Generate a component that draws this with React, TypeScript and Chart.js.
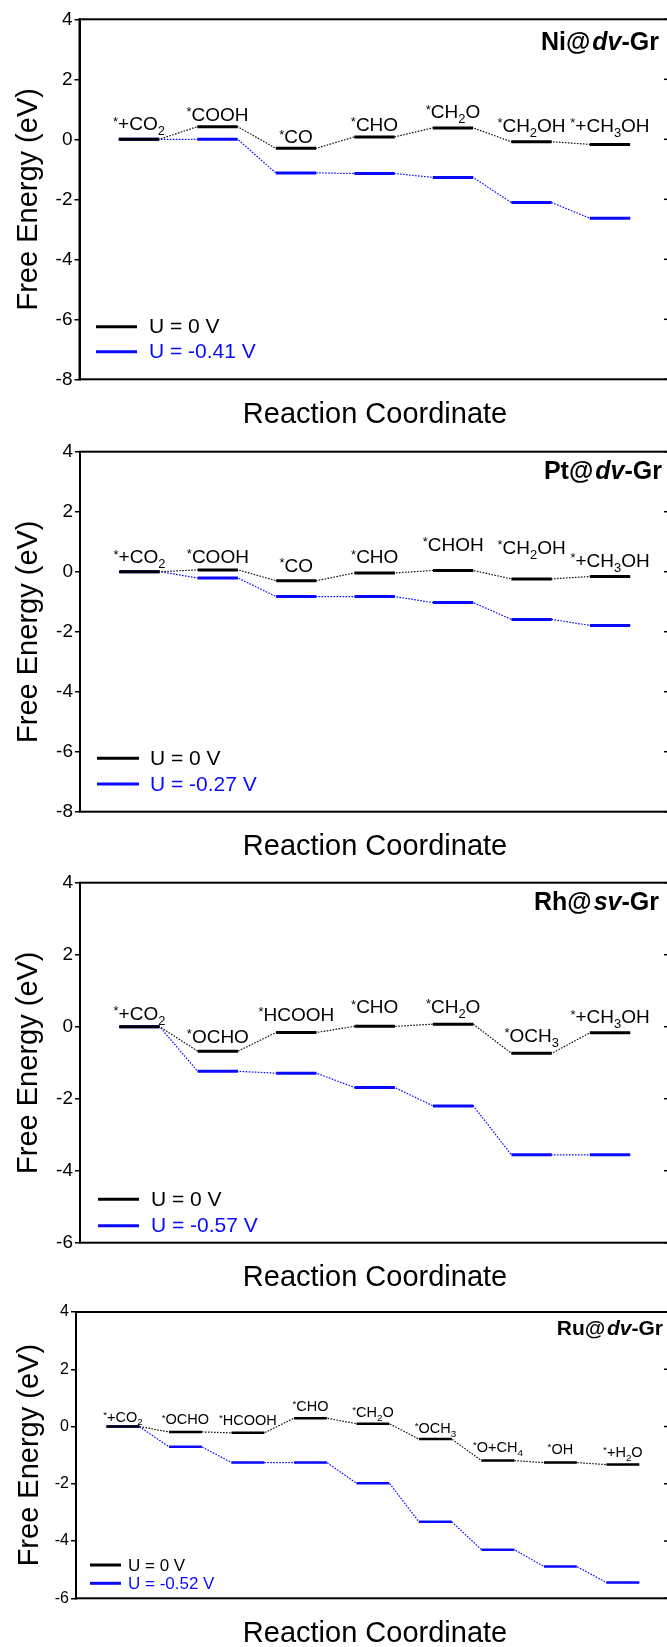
import React, { useEffect, useRef } from 'react';
import { Chart, registerables } from 'chart.js';

Chart.register(...registerables);

const FONT = '"Liberation Sans", Arial, Helvetica, sans-serif';
const BLUE = '#0a0aff';

// ---------- data ----------
// Ni@dv-Gr
const niStates = ['*+CO_2', '*COOH', '*CO', '*CHO', '*CH_2O', '*CH_2OH', '*+CH_3OH'];
const niU0 = [0, 0.42, -0.3, 0.08, 0.38, -0.08, -0.17];
const niUm = [0, 0.0, -1.12, -1.14, -1.27, -2.11, -2.63];

// Pt@dv-Gr
const ptStates = ['*+CO_2', '*COOH', '*CO', '*CHO', '*CHOH', '*CH_2OH', '*+CH_3OH'];
const ptU0 = [0, 0.06, -0.3, -0.04, 0.04, -0.24, -0.16];
const ptUm = [0, -0.21, -0.83, -0.83, -1.03, -1.59, -1.79];

// Rh@sv-Gr
const rhStates = ['*+CO_2', '*OCHO', '*HCOOH', '*CHO', '*CH_2O', '*OCH_3', '*+CH_3OH'];
const rhU0 = [0, -0.68, -0.16, 0.01, 0.07, -0.74, -0.17];
const rhUm = [0, -1.24, -1.29, -1.69, -2.2, -3.56, -3.56];

// Ru@dv-Gr
const ruStates = ['*+CO_2', '*OCHO', '*HCOOH', '*CHO', '*CH_2O', '*OCH_3', '*O+CH_4', '*OH', '*+H_2O'];
const ruU0 = [0, -0.19, -0.22, 0.29, 0.1, -0.44, -1.19, -1.26, -1.33];
const ruUm = [0, -0.71, -1.26, -1.26, -1.98, -3.33, -4.3, -4.89, -5.45];

const yTicksA = [4, 2, 0, -2, -4, -6, -8];
const yTicksB = [4, 2, 0, -2, -4, -6];

const legendU0 = 'U = 0 V';
const niLegend = 'U = -0.41 V';
const ptLegend = 'U = -0.27 V';
const rhLegend = 'U = -0.57 V';
const ruLegend = 'U = -0.52 V';

const yTitle = 'Free Energy (eV)';
const xTitle = 'Reaction Coordinate';

// ---------- layout / style per panel ----------
const CANVAS_W = 672;
const PANELS = [
  {
    key: 'ni', title: ['Ni@', 'dv', '-Gr'], states: niStates, u0: niU0, um: niUm, uLabel: niLegend, ticks: yTicksA,
    top: 0, height: 430, plotTop: 19.3, plotBottom: 379.3, left: 79.5, right: 669,
    xMin: -0.758, xMax: 6.752, halfW: 0.257,
    tickFont: 19, labelFont: 19, legendFont: 21, titleFont: 25, levelW: 3,
    legendY: [52.6, 27.6], legendX: [96, 137, 149], titleRight: 659, titleBase: 31, yTitleX: 37,
    raise: [9, 6, 5, 6, 9.6, 10, 12.7],
  },
  {
    key: 'pt', title: ['Pt@', 'dv', '-Gr'], states: ptStates, u0: ptU0, um: ptUm, uLabel: ptLegend, ticks: yTicksA,
    top: 430, height: 432, plotTop: 21.7, plotBottom: 381.7, left: 80, right: 669,
    xMin: -0.758, xMax: 6.752, halfW: 0.257,
    tickFont: 19, labelFont: 19, legendFont: 21, titleFont: 25, levelW: 3,
    legendY: [53.4, 27.7], legendX: [97, 139, 150], titleRight: 662, titleBase: 27.6, yTitleX: 37,
    raise: [8.4, 6.7, 9, 9.6, 20, 25, 10],
  },
  {
    key: 'rh', title: ['Rh@', 'sv', '-Gr'], states: rhStates, u0: rhU0, um: rhUm, uLabel: rhLegend, ticks: yTicksB,
    top: 862, height: 433, plotTop: 20.7, plotBottom: 380.7, left: 80, right: 669,
    xMin: -0.758, xMax: 6.752, halfW: 0.257,
    tickFont: 19, labelFont: 19, legendFont: 21, titleFont: 25, levelW: 3,
    legendY: [43.4, 17], legendX: [98, 139, 151], titleRight: 659, titleBase: 27.3, yTitleX: 37,
    raise: [6.7, 8, 11.5, 13, 11, 11.6, 9.5],
  },
  {
    key: 'ru', title: ['Ru@', 'dv', '-Gr'], states: ruStates, u0: ruU0, um: ruUm, uLabel: ruLegend, ticks: yTicksB,
    top: 1295, height: 352, plotTop: 17, plotBottom: 303.3, left: 76, right: 669,
    xMin: -0.751, xMax: 8.738, halfW: 0.263,
    tickFont: 16, labelFont: 14.5, legendFont: 17, titleFont: 21, levelW: 2.5,
    legendY: [33.3, 15], legendX: [90, 121, 128], titleRight: 663, titleBase: 23, yTitleX: 38,
    raise: [5, 7.5, 7.7, 7.4, 6.7, 6.3, 8.7, 9, 8],
  },
];

type Panel = (typeof PANELS)[number];

function levelData(vals: number[], hw: number) {
  const out: { x: number; y: number | null }[] = [];
  vals.forEach((v, i) => {
    out.push({ x: i - hw, y: v }, { x: i + hw, y: v });
    if (i < vals.length - 1) out.push({ x: i + 0.5, y: null });
  });
  return out;
}

function pathData(vals: number[], hw: number) {
  const out: { x: number; y: number }[] = [];
  vals.forEach((v, i) => {
    out.push({ x: i - hw, y: v }, { x: i + hw, y: v });
  });
  return out;
}

function drawRich(ctx: CanvasRenderingContext2D, text: string, cx: number, baseY: number, size: number) {
  const parts: { t: string; kind: string; w?: number }[] = [];
  let i = 0;
  while (i < text.length) {
    const ch = text[i];
    if (i === 0 && ch === '*') { parts.push({ t: '*', kind: 'sup' }); i++; continue; }
    if (ch === '_') { parts.push({ t: text[i + 1], kind: 'sub' }); i += 2; continue; }
    parts.push({ t: ch, kind: 'n' });
    i++;
  }
  let total = 0;
  for (const p of parts) {
    ctx.font = `${p.kind === 'n' ? size : size * 0.68}px ${FONT}`;
    p.w = ctx.measureText(p.t).width;
    total += p.w;
  }
  let x = cx - total / 2;
  ctx.textAlign = 'left';
  ctx.textBaseline = 'alphabetic';
  for (const p of parts) {
    ctx.font = `${p.kind === 'n' ? size : size * 0.68}px ${FONT}`;
    const dy = p.kind === 'sup' ? -size * 0.25 : p.kind === 'sub' ? size * 0.27 : 0;
    ctx.fillText(p.t, x, baseY + dy);
    x += p.w as number;
  }
}

function makeDecor(p: Panel) {
  return {
    id: 'decor_' + p.key,
    afterDraw(chart: any) {
      const ctx: CanvasRenderingContext2D = chart.ctx;
      const { left, right, top, bottom } = chart.chartArea;
      const xs = chart.scales.x;
      const ys = chart.scales.y;
      ctx.save();
      // frame
      ctx.strokeStyle = '#000';
      ctx.lineWidth = 2;
      ctx.strokeRect(left, top, right - left, bottom - top);
      // inward ticks on right
      ctx.lineWidth = 1.5;
      for (const v of p.ticks) {
        const y = ys.getPixelForValue(v);
        ctx.beginPath();
        ctx.moveTo(right - 5, y);
        ctx.lineTo(right, y);
        ctx.stroke();
      }
      // level labels
      ctx.fillStyle = '#000';
      p.states.forEach((s, i) => {
        const cx = xs.getPixelForValue(i);
        const cy = ys.getPixelForValue(p.u0[i]);
        drawRich(ctx, s, cx, cy - p.raise[i], p.labelFont);
      });
      // title
      const fs = p.titleFont;
      const fonts = [`bold ${fs}px ${FONT}`, `italic bold ${fs}px ${FONT}`, `bold ${fs}px ${FONT}`];
      const widths = p.title.map((t, k) => { ctx.font = fonts[k]; return ctx.measureText(t).width; });
      const gap = fs * 0.08;
      let tx = p.titleRight - widths.reduce((a, b) => a + b, 0) - gap;
      ctx.textAlign = 'left';
      ctx.textBaseline = 'alphabetic';
      p.title.forEach((t, k) => {
        ctx.font = fonts[k];
        ctx.fillText(t, tx, top + p.titleBase);
        tx += widths[k] + (k === 0 ? gap : 0);
      });
      // legend
      const [lx0, lx1, tx0] = p.legendX;
      const entries = [
        { c: '#000', t: legendU0, y: bottom - p.legendY[0] },
        { c: BLUE, t: p.uLabel, y: bottom - p.legendY[1] },
      ];
      ctx.font = `${p.legendFont}px ${FONT}`;
      ctx.textBaseline = 'middle';
      for (const e of entries) {
        ctx.strokeStyle = e.c;
        ctx.lineWidth = 3;
        ctx.beginPath();
        ctx.moveTo(lx0, e.y);
        ctx.lineTo(lx1, e.y);
        ctx.stroke();
        ctx.fillStyle = e.c;
        ctx.fillText(e.t, tx0, e.y + 1);
      }
      // axis titles
      ctx.fillStyle = '#000';
      ctx.font = `29px ${FONT}`;
      ctx.textAlign = 'center';
      ctx.textBaseline = 'alphabetic';
      ctx.fillText(xTitle, 375, bottom + 43.5);
      ctx.save();
      ctx.translate(p.yTitleX, (top + bottom) / 2);
      ctx.rotate(-Math.PI / 2);
      ctx.fillText(yTitle, 0, 0);
      ctx.restore();
      ctx.restore();
    },
  };
}

function PanelChart({ p }: { p: Panel }) {
  const ref = useRef<HTMLCanvasElement | null>(null);
  useEffect(() => {
    if (!ref.current) return;
    const conn = { borderWidth: 1.2, borderDash: [1.6, 1.4], pointRadius: 0, tension: 0, spanGaps: true };
    const lev = { borderWidth: p.levelW, pointRadius: 0, tension: 0, spanGaps: false, borderCapStyle: 'butt' as const };
    const chart = new Chart(ref.current, {
      type: 'line',
      data: {
        datasets: [
          { ...conn, label: 'blue path', data: pathData(p.um, p.halfW), borderColor: BLUE, order: 4 },
          { ...conn, label: 'black path', data: pathData(p.u0, p.halfW), borderColor: '#111', order: 3 },
          { ...lev, label: p.uLabel, data: levelData(p.um, p.halfW), borderColor: BLUE, order: 2 },
          { ...lev, label: legendU0, data: levelData(p.u0, p.halfW), borderColor: '#000', order: 1 },
        ],
      },
      options: {
        responsive: false,
        animation: false,
        devicePixelRatio: 1,
        layout: { padding: { left: 0, right: CANVAS_W - p.right, top: p.plotTop, bottom: p.height - p.plotBottom } },
        plugins: { legend: { display: false }, tooltip: { enabled: false } },
        scales: {
          x: { type: 'linear', min: p.xMin, max: p.xMax, display: false },
          y: {
            type: 'linear',
            min: p.ticks[p.ticks.length - 1],
            max: p.ticks[0],
            afterFit: (s: any) => { s.width = p.left; },
            afterBuildTicks: (s: any) => { s.ticks = p.ticks.map((v) => ({ value: v })); },
            ticks: { font: { family: FONT, size: p.tickFont }, color: '#000', padding: 2 },
            grid: { drawOnChartArea: false, tickLength: 5, color: '#000', lineWidth: 1.5 },
            border: { color: '#000', width: 2 },
          },
        },
      } as any,
      plugins: [makeDecor(p)],
    });
    return () => chart.destroy();
  }, [p]);
  return (
    <canvas
      ref={ref}
      width={CANVAS_W}
      height={p.height}
      style={{ position: 'absolute', left: 0, top: p.top, width: CANVAS_W, height: p.height }}
    />
  );
}

export default function App() {
  return (
    <div style={{ position: 'absolute', left: 0, top: 0, width: 667, height: 1647, overflow: 'hidden', background: '#fff' }}>
      {PANELS.map((p) => (
        <PanelChart key={p.key} p={p} />
      ))}
    </div>
  );
}
